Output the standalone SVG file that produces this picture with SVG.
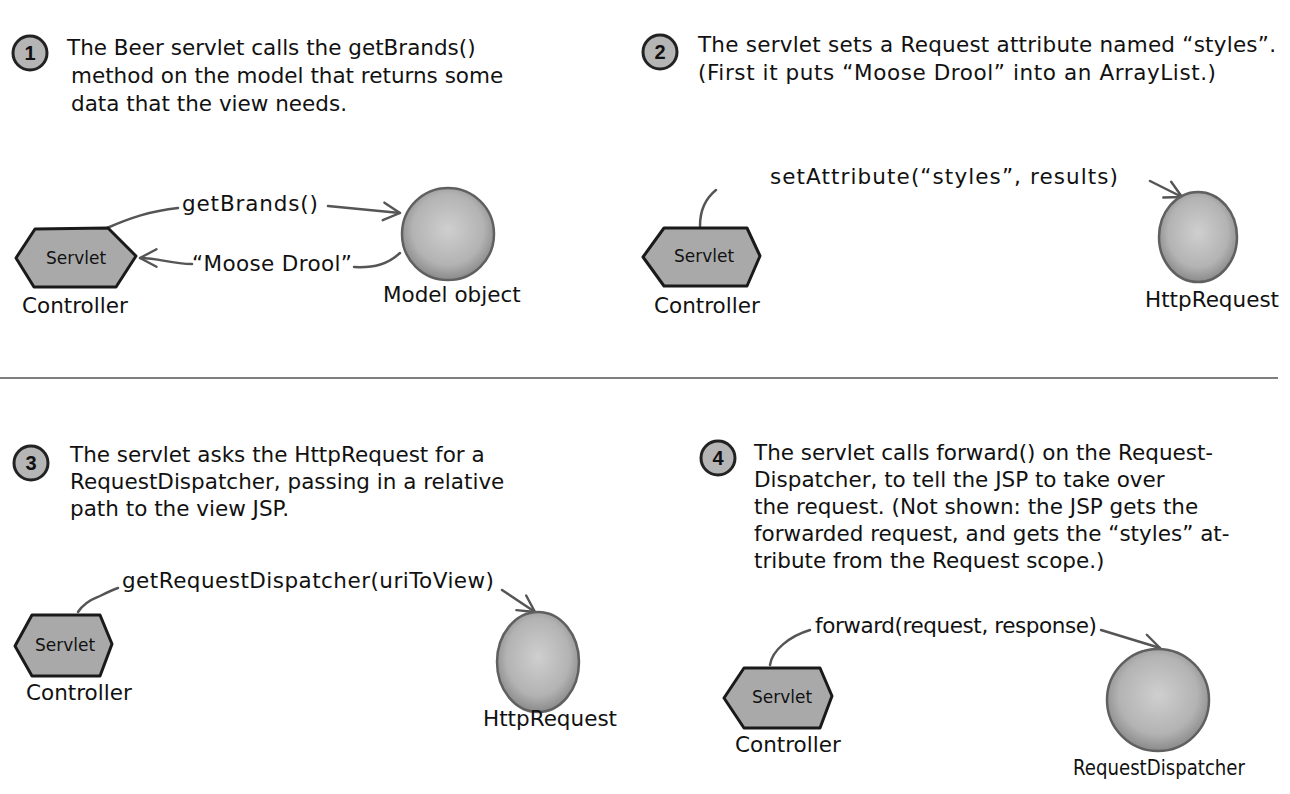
<svg xmlns="http://www.w3.org/2000/svg" width="1290" height="794" viewBox="0 0 1290 794">
<defs>
<radialGradient id="ball" cx="50%" cy="45%" r="55%">
<stop offset="0" stop-color="#cfcfcf"/>
<stop offset="0.7" stop-color="#b3b3b3"/>
<stop offset="1" stop-color="#8a8a8a"/>
</radialGradient>
<marker id="arr" viewBox="0 0 20 20" refX="17" refY="10" markerWidth="22" markerHeight="22" markerUnits="userSpaceOnUse" orient="auto">
<path d="M2,2 L17,10 L2,18" fill="none" stroke="#555" stroke-width="2.2" stroke-linecap="round" stroke-linejoin="round"/>
</marker>
</defs>
<style>
text{font-family:"DejaVu Sans","Liberation Sans",sans-serif;fill:#111}
.t{font-size:21.5px}
.lbl{font-size:21.5px}
.sv{font-size:17px;text-anchor:middle}
.hex{fill:#a9a9a9;stroke:#1a1a1a;stroke-width:3;stroke-linejoin:round}
.ball{fill:url(#ball);stroke:#606060;stroke-width:2.5}
.badge{fill:#b5b5b5;stroke:#222;stroke-width:3}
.num{font-family:"Liberation Sans",sans-serif;font-size:20px;font-weight:bold;text-anchor:middle}
.con{fill:none;stroke:#555;stroke-width:2.5;stroke-linecap:round}
</style>
<rect width="1290" height="794" fill="#fff"/>

<g id="step1">
<circle class="badge" cx="30" cy="53" r="17"/><text class="num" x="30" y="60">1</text>
<text class="t" x="67" y="55">The Beer servlet calls the getBrands()</text>
<text class="t" x="71" y="83">method on the model that returns some</text>
<text class="t" x="71" y="111">data that the view needs.</text>
</g>
<g id="step2">
<circle class="badge" cx="660" cy="52" r="17"/><text class="num" x="660" y="59">2</text>
<text class="t" x="698" y="52" textLength="578">The servlet sets a Request attribute named “styles”.</text>
<text class="t" x="698" y="80" textLength="518">(First it puts “Moose Drool” into an ArrayList.)</text>
</g>
<line x1="0" y1="378" x2="1278" y2="378" stroke="#555" stroke-width="1.5"/>
<g id="step3">
<circle class="badge" cx="31" cy="463" r="17"/><text class="num" x="31" y="470">3</text>
<text class="t" x="70" y="462">The servlet asks the HttpRequest for a</text>
<text class="t" x="70" y="489">RequestDispatcher, passing in a relative</text>
<text class="t" x="70" y="516">path to the view JSP.</text>
</g>
<g id="step4">
<circle class="badge" cx="718" cy="458" r="17"/><text class="num" x="718" y="465">4</text>
<text class="t" x="754" y="460">The servlet calls forward() on the Request-</text>
<text class="t" x="754" y="487">Dispatcher, to tell the JSP to take over</text>
<text class="t" x="754" y="514">the request. (Not shown: the JSP gets the</text>
<text class="t" x="754" y="541">forwarded request, and gets the “styles” at-</text>
<text class="t" x="754" y="568">tribute from the Request scope.)</text>
</g>

<g id="connectors">
<path class="con" d="M107,228 C130,218 150,211 178,208"/>
<path class="con" d="M328,206 L400,213" marker-end="url(#arr)"/>
<path class="con" d="M354,267 C375,268 388,264 400,253"/>
<path class="con" d="M192,264 C170,264 160,258 140,258" marker-end="url(#arr)"/>
<path class="con" d="M700,226 C700,210 706,198 716,190"/>
<path class="con" d="M1150,181 L1182,197" marker-end="url(#arr)"/>
<path class="con" d="M78,612 C86,600 96,598 100,596 C108,592 112,590 118,588"/>
<path class="con" d="M502,590 L535,612" marker-end="url(#arr)"/>
<path class="con" d="M770,665 C772,650 790,636 810,630"/>
<path class="con" d="M1101,630 L1160,648" marker-end="url(#arr)"/>
</g>

<g id="servlet1">
<polygon class="hex" points="16,258 35,229 108,228 136,256 116,287 34,287"/>
<text class="sv" x="76" y="264">Servlet</text>
<text class="lbl" x="22" y="313">Controller</text>
</g>
<g id="model">
<circle class="ball" cx="448" cy="234" r="46"/>
<text class="lbl" x="383" y="302">Model object</text>
</g>
<text class="lbl" x="182" y="211" textLength="136">getBrands()</text>
<text class="lbl" x="192" y="271" textLength="160">“Moose Drool”</text>

<g id="servlet2">
<polygon class="hex" points="643,257 664,228 747,228 760,256 747,286 664,286"/>
<text class="sv" x="704" y="262">Servlet</text>
<text class="lbl" x="654" y="313">Controller</text>
</g>
<g id="httprequest1">
<ellipse class="ball" cx="1198" cy="237" rx="39" ry="45"/>
<text class="lbl" x="1145" y="307">HttpRequest</text>
</g>
<text class="lbl" x="770" y="184" textLength="348">setAttribute(“styles”, results)</text>

<g id="servlet3">
<polygon class="hex" points="15,646 32,615 100,615 112,644 100,676 32,676"/>
<text class="sv" x="65" y="651">Servlet</text>
<text class="lbl" x="26" y="700">Controller</text>
</g>
<g id="httprequest2">
<ellipse class="ball" cx="538" cy="662" rx="41" ry="50"/>
<text class="lbl" x="483" y="726">HttpRequest</text>
</g>
<text class="lbl" x="122" y="588" textLength="372">getRequestDispatcher(uriToView)</text>

<g id="servlet4">
<polygon class="hex" points="724,698 744,668 820,668 832,696 820,728 744,728"/>
<text class="sv" x="782" y="703">Servlet</text>
<text class="lbl" x="735" y="752">Controller</text>
</g>
<g id="dispatcher">
<circle class="ball" cx="1158" cy="700" r="51"/>
<text class="lbl" x="1073" y="775" font-size="20" textLength="172" lengthAdjust="spacingAndGlyphs">RequestDispatcher</text>
</g>
<text class="lbl" x="815" y="633" textLength="282">forward(request, response)</text>
</svg>
